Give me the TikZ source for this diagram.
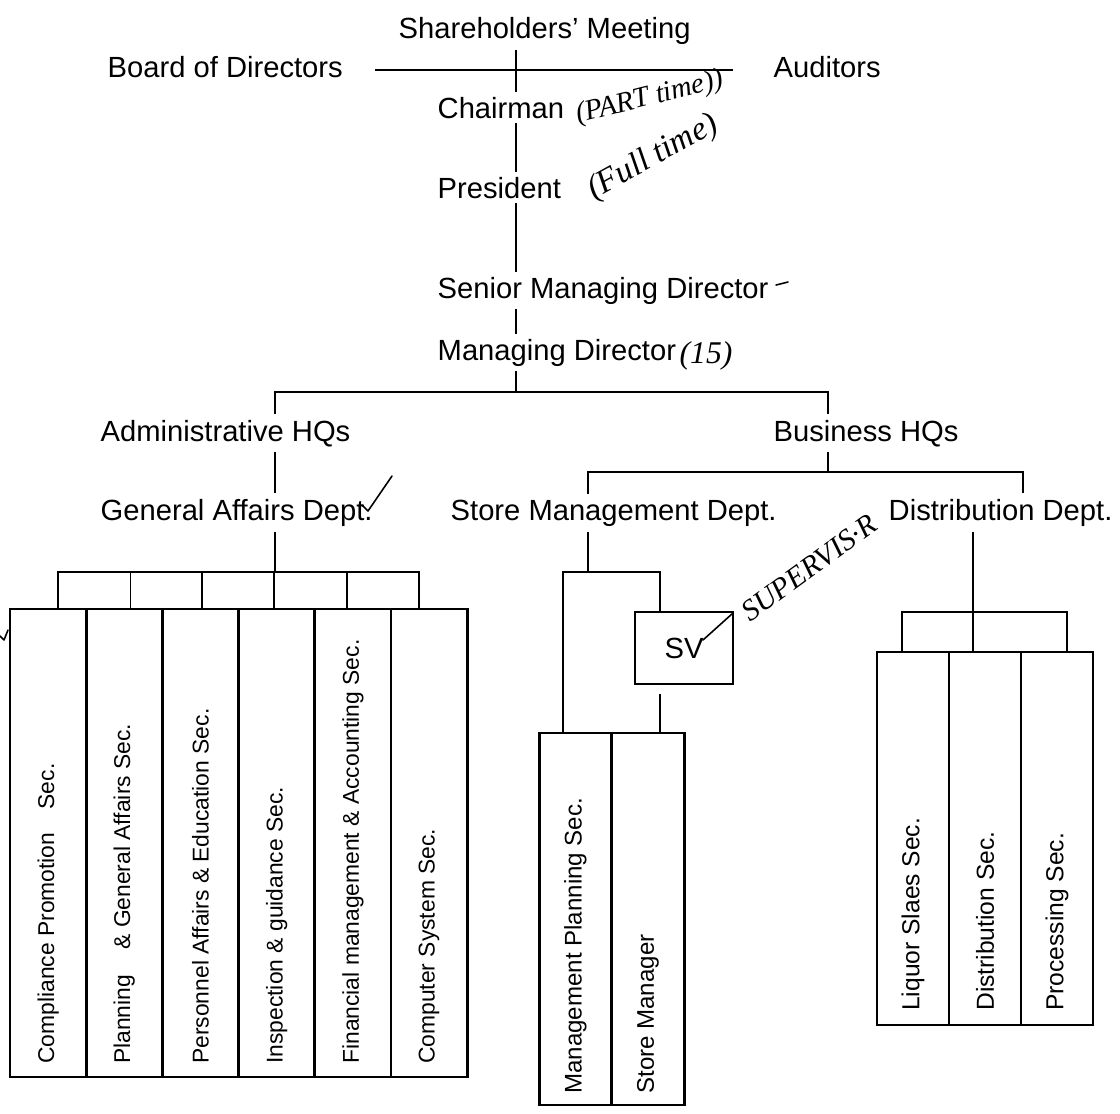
\documentclass[tikz,border=0pt]{standalone}
\usepackage{fontspec}
\setmainfont{Liberation Sans}
\newfontfamily\handfont{Liberation Serif}
\usetikzlibrary{backgrounds}

\tikzset{
    lbl/.style={anchor=base west, inner xsep=0pt, inner ysep=0.05cm, fill=white,
        font=\fontsize{8.3}{10}\selectfont},
    colbox/.style={draw, line width=0.8pt, inner sep=0pt},
    abox/.style={colbox, minimum width=0.762cm, minimum height=4.68cm},
    sbox/.style={colbox, minimum width=0.725cm, minimum height=3.72cm},
    dbox/.style={colbox, minimum width=0.72cm, minimum height=3.73cm},
    coltext/.style={rotate=90, anchor=west, inner sep=0pt, font=\fontsize{#1}{9}\selectfont},
    coltext/.default=6.5,
    svbox/.style={colbox, fill=white, minimum width=0.98cm, minimum height=0.72cm,
        font=\fontsize{8.3}{10}\selectfont},
    link/.style={line width=0.7pt},
    hand/.style={inner sep=0pt, font=\handfont\itshape\fontsize{#1}{9}\selectfont},
    hand/.default=8,
    handline/.style={line width=0.45pt, line cap=round, line join=round}
}

\begin{document}
\begin{tikzpicture}
    \useasboundingbox (0,0) rectangle (11.2,11.13);

    %%%%%%%%%% Nodi %%%%%%%%%%
    \node[lbl] (sh) at (3.98,10.75) {Shareholders' Meeting};
    \node[lbl] (board) at (1.07,10.36) {Board of Directors};
    \node[lbl] (aud) at (7.73,10.36) {Auditors};
    \node[lbl] (chair) at (4.37,9.95) {Chairman};
    \node[lbl] (pres) at (4.37,9.15) {President};
    \node[lbl] (smd) at (4.37,8.15) {Senior Managing Director};
    \node[lbl] (md) at (4.37,7.53) {Managing Director};
    \node[lbl] (admin) at (1.00,6.72) {Administrative HQs};
    \node[lbl] (bus) at (7.73,6.72) {Business HQs};
    \node[lbl] (gad) at (1.00,5.93) {General Affairs Dept.};
    \node[lbl] (smdept) at (4.50,5.93) {Store Management Dept.};
    \node[lbl] (dist) at (8.88,5.93) {Distribution Dept.};

    \coordinate (j0) at (5.16,10.43);
    \coordinate (j1) at (5.16,7.21);
    \coordinate (j2) at (8.28,6.41);
    \coordinate (jr) at (10.23,6.41);
    \coordinate (ja) at (2.75,5.41);
    \coordinate (js) at (5.88,5.41);
    \coordinate (jf) at (6.60,5.41);
    \coordinate (jd) at (9.73,5.01);

    % sezioni amministrative
    \node[abox] (a1) at (0.481,2.70) {};
    \node[abox] (a2) at (1.243,2.70) {};
    \node[abox] (a3) at (2.005,2.70) {};
    \node[abox] (a4) at (2.767,2.70) {};
    \node[abox] (a5) at (3.529,2.70) {};
    \node[abox] (a6) at (4.291,2.70) {};
    \node[coltext] (a1t) at ([yshift=0.14cm]a1.south) {Compliance Promotion\hspace{0.17cm} Sec.};
    \node[coltext] (a2t) at ([yshift=0.14cm]a2.south) {Planning\hspace{0.19cm} \& General Affairs Sec.};
    \node[coltext] (a3t) at ([yshift=0.14cm]a3.south) {Personnel Affairs \& Education Sec.};
    \node[coltext] (a4t) at ([yshift=0.14cm]a4.south) {Inspection \& guidance Sec.};
    \node[coltext] (a5t) at ([yshift=0.14cm]a5.south) {Financial management \& Accounting Sec.};
    \node[coltext] (a6t) at ([yshift=0.14cm]a6.south) {Computer System Sec.};

    % negozi
    \node[svbox] (sv) at (6.84,4.65) {SV\hspace{0.25cm}};
    \node[sbox] (s1) at (5.755,1.94) {};
    \node[sbox] (s2) at (6.48,1.94) {};
    \node[coltext=6.85] (s1t) at ([yshift=0.12cm]s1.south) {Management Planning Sec.};
    \node[coltext=6.85] (s2t) at ([yshift=0.12cm]s2.south) {Store Manager};

    % distribuzione
    \node[dbox] (d1) at (9.13,2.745) {};
    \node[dbox] (d2) at (9.85,2.745) {};
    \node[dbox] (d3) at (10.57,2.745) {};
    \node[coltext=7] (d1t) at ([yshift=0.15cm]d1.south) {Liquor Slaes Sec.};
    \node[coltext=7] (d2t) at ([yshift=0.15cm]d2.south) {Distribution Sec.};
    \node[coltext=7] (d3t) at ([yshift=0.15cm]d3.south) {Processing Sec.};

    %%%%%%%%% Linee %%%%%%%%%
    \begin{scope}[on background layer, link]
        \draw ([xshift=0.32cm]board.east |- j0) -- ([xshift=-0.40cm]aud.west |- j0);
        \draw (sh.south -| j0) -- (j1);
        \draw (admin.north -| ja) |- (j1) -| (bus.north -| j2);
        \draw (admin.south -| ja) -- (gad.north -| ja);
        \draw (gad.south -| ja) -- (ja);
        \draw ([xshift=1mm]a1.north) |- (ja) -| ([xshift=-1mm]a6.north);
        \draw ([xshift=0.6mm]a2.north) -- ++(0,0.37);
        \draw ([xshift=0.15mm]a3.north) -- ++(0,0.37);
        \draw ([xshift=-0.27mm]a4.north) -- ++(0,0.37);
        \draw ([xshift=-0.6mm]a5.north) -- ++(0,0.37);
        \draw (bus.south -| j2) -- (j2);
        \draw (smdept.north -| js) |- (jr) -- (dist.north -| jr);
        \draw (smdept.south -| js) -- (js);
        \draw ([xshift=-1.25mm]s1.north) |- (jf) -- (sv.north -| jf);
        \draw ([yshift=-0.9mm]sv.south -| jf) -- (s2.north -| jf);
        \draw (dist.south -| jd) -- (jd) -- (d2.north -| jd);
        \draw ([xshift=-1.1mm]d1.north) |- (jd) -| ([xshift=1mm]d3.north);
    \end{scope}

    %%%%%%%%% Annotazioni %%%%%%%%%
    \node[hand=8.2, rotate=14] (parttime) at (6.50,10.15) {(PART time))};
    \node[hand=9.5, rotate=29] (fulltime) at (6.53,9.55) {(Full time)};
    \node[hand=9] (fifteen) at (7.06,7.57) {(15)};
    \node[hand=8.5, rotate=36] (supnote) at (8.09,5.45) {SUPERVIS·R};
    \draw[handline] (7.76,8.28) -- (7.88,8.31);
    \draw[handline] (3.62,6.08) -- (3.68,6.02) -- (3.92,6.37);
    \draw[handline] (7.03,4.73) -- (7.33,5.00);
    \draw[handline] (0.0,4.77) -- (0.04,4.73) -- (0.08,4.83);
\end{tikzpicture}
\end{document}
